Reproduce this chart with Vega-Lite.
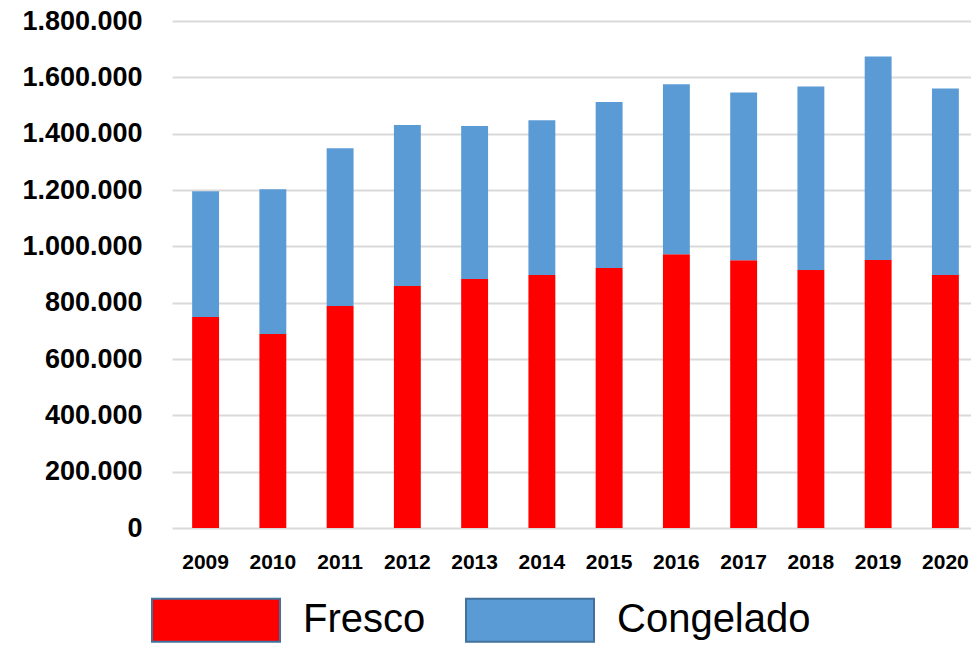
{
  "$schema": "https://vega.github.io/schema/vega-lite/v6.json",
  "autosize": {"type": "none"},
  "padding": {"left": 172, "top": 21, "right": 0, "bottom": 120},
  "width": 799,
  "height": 507,
  "background": "white",
  "config": {
    "locale": {"number": {"decimal": ",", "thousands": ".", "grouping": [3], "currency": ["", " €"]}},
    "view": {"stroke": null},
    "font": "Liberation Sans"
  },
  "data": {
    "values": [
      {"year": "2009", "serie": "Fresco", "value": 749200},
      {"year": "2009", "serie": "Congelado", "value": 446300},
      {"year": "2010", "serie": "Fresco", "value": 688800},
      {"year": "2010", "serie": "Congelado", "value": 513800},
      {"year": "2011", "serie": "Fresco", "value": 788200},
      {"year": "2011", "serie": "Congelado", "value": 559900},
      {"year": "2012", "serie": "Fresco", "value": 859200},
      {"year": "2012", "serie": "Congelado", "value": 571700},
      {"year": "2013", "serie": "Fresco", "value": 884100},
      {"year": "2013", "serie": "Congelado", "value": 543200},
      {"year": "2014", "serie": "Fresco", "value": 898300},
      {"year": "2014", "serie": "Congelado", "value": 549200},
      {"year": "2015", "serie": "Fresco", "value": 923100},
      {"year": "2015", "serie": "Congelado", "value": 589400},
      {"year": "2016", "serie": "Fresco", "value": 971800},
      {"year": "2016", "serie": "Congelado", "value": 603600},
      {"year": "2017", "serie": "Fresco", "value": 950500},
      {"year": "2017", "serie": "Congelado", "value": 595400},
      {"year": "2018", "serie": "Fresco", "value": 916000},
      {"year": "2018", "serie": "Congelado", "value": 651200},
      {"year": "2019", "serie": "Fresco", "value": 951500},
      {"year": "2019", "serie": "Congelado", "value": 722200},
      {"year": "2020", "serie": "Fresco", "value": 898300},
      {"year": "2020", "serie": "Congelado", "value": 661800}
    ]
  },
  "mark": {"type": "bar"},
  "encoding": {
    "x": {
      "field": "year",
      "type": "ordinal",
      "scale": {"paddingInner": 0.6, "paddingOuter": 0.24, "align": 0.624},
      "axis": {
        "title": null,
        "domain": false,
        "ticks": false,
        "labelAngle": 0,
        "labelFont": "Liberation Sans",
        "labelFontWeight": "bold",
        "labelFontSize": 21,
        "labelColor": "#000000",
        "labelPadding": 23
      }
    },
    "y": {
      "field": "value",
      "type": "quantitative",
      "stack": "zero",
      "scale": {"domain": [0, 1800000], "nice": false},
      "axis": {
        "title": null,
        "values": [0, 200000, 400000, 600000, 800000, 1000000, 1200000, 1400000, 1600000, 1800000],
        "format": ",d",
        "domain": false,
        "ticks": false,
        "grid": true,
        "gridColor": "#D9D9D9",
        "gridWidth": 2,
        "labelFont": "Liberation Sans",
        "labelFontWeight": "bold",
        "labelFontSize": 27,
        "labelColor": "#000000",
        "labelPadding": 30
      }
    },
    "color": {
      "field": "serie",
      "type": "nominal",
      "scale": {"domain": ["Fresco", "Congelado"], "range": ["#FF0000", "#5B9BD5"]},
      "legend": {
        "title": null,
        "orient": "none",
        "legendX": -21,
        "legendY": 534,
        "direction": "horizontal",
        "symbolType": "M-1,-0.336H1V0.336H-1Z",
        "symbolSize": 16384,
        "labelFont": "Liberation Sans",
        "labelFontSize": 40,
        "labelColor": "#000000",
        "labelOffset": 22,
        "labelLimit": 400,
        "columnPadding": 36,
        "encode": {
          "symbols": {"update": {"stroke": {"value": "#41719C"}, "strokeWidth": {"value": 2}, "opacity": {"value": 1}}}
        }
      }
    },
    "order": {"field": "serie", "sort": "descending"}
  }
}
